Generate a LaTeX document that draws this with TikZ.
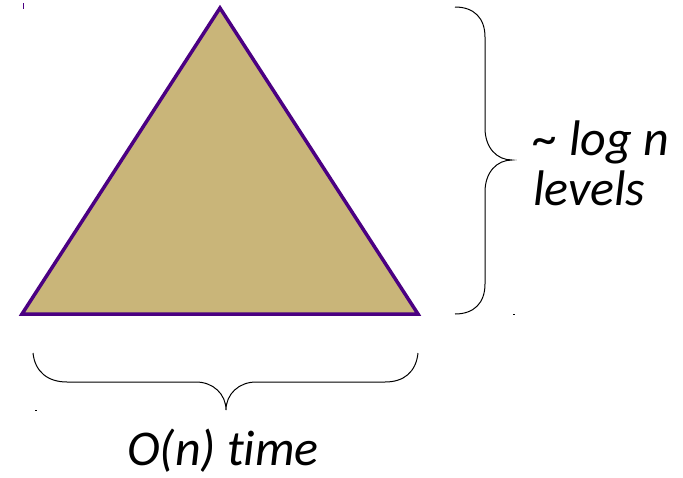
\documentclass[tikz,border=0pt]{standalone}
\usepackage{fontspec}
\setmainfont[Ligatures=NoCommon]{Carlito}
\definecolor{tan}{RGB}{201,181,121}
\definecolor{edge}{RGB}{75,0,130}
\begin{document}
\begin{tikzpicture}[x=1pt,y=-1pt,
  label/.style={inner sep=0pt,font=\fontsize{50}{56}\selectfont\itshape},
  bracepath/.style={draw=black,line width=1pt}]
\useasboundingbox (0,0) rectangle (683,477);
% triangle
\coordinate (apex) at (220,8);
\coordinate (bl) at (22,314);
\coordinate (br) at (418,314);
\filldraw[fill=tan,draw=edge,line width=3.5pt,line join=miter] (apex) -- (br) -- (bl) -- cycle;
% right brace
\draw[bracepath] (455,7) .. controls (474,7) and (485,18) .. (485,37)
  -- (485,128) .. controls (485,148) and (497,160) .. (512,160)
  .. controls (497,160) and (485,172) .. (485,192)
  -- (485,284) .. controls (485,303) and (474,314) .. (455,314);
% bottom brace
\draw[bracepath] (33,353) .. controls (35,372) and (48,382) .. (67,382)
  -- (196,382) .. controls (213,382) and (226,394) .. (226,410)
  .. controls (226,394) and (239,382) .. (256,382)
  -- (385,382) .. controls (404,382) and (416,372) .. (418,353);
% labels
\node[label,anchor=base west] (l1) at (533,155) {\char"007E\ log n};
\node[label,anchor=base west] (l2) at (533,205) {levels};
\node[label,anchor=base] (l3) at (223,465) {O(n) time};
% specks
\fill[edge] (22.5,3) rectangle (24,9);
\fill[black] (513,313.5) rectangle (515,315);
\fill[black] (35,409.5) rectangle (37,411);
\end{tikzpicture}
\end{document}
